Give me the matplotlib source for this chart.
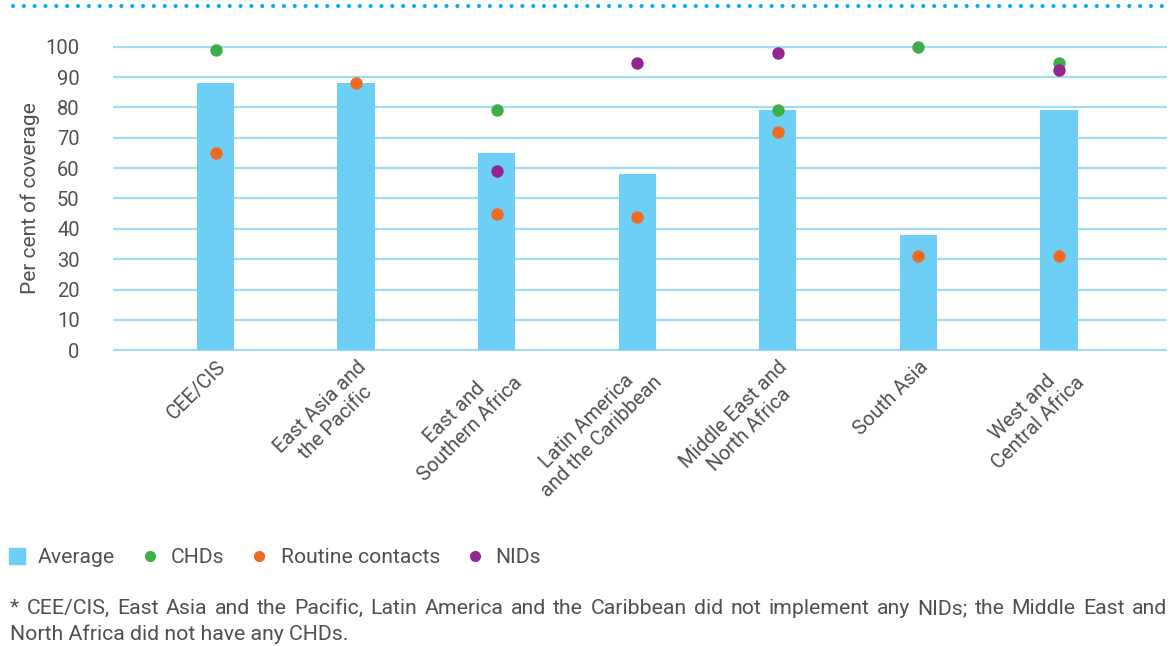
import matplotlib.pyplot as plt
from matplotlib.lines import Line2D
import matplotlib.transforms as mtransforms
import numpy as np

regions = ['CEE/CIS', 'East Asia and\nthe Pacific', 'East and\nSouthern Africa',
           'Latin America\nand the Caribbean', 'Middle East and\nNorth Africa',
           'South Asia', 'West and\nCentral Africa']
average = [88, 88, 65, 58, 79, 38, 79]
chds = [99, None, 79, None, 79, 100, 94.5]
routine = [65, 88, 45, 44, 72, 31, 31]
nids = [None, None, 59, 94.5, 98, None, 92.5]
yticks = list(range(0, 101, 10))
note_1 = ('* CEE/CIS, East Asia and the Pacific, Latin America and the Caribbean '
          'did not implement any NIDs; the Middle East and')
note_2 = 'North Africa did not have any CHDs.'

BAR = '#6dcff6'
GRID = '#a3dbf4'
GREEN = '#3fae49'
ORANGE = '#f26a22'
PURPLE = '#93278f'
TEXT = '#505050'

plt.rcParams['font.family'] = ['Roboto', 'DejaVu Sans']

fig = plt.figure(figsize=(11.73, 6.46), dpi=100)
ax = fig.add_axes([0.0963, 0.456, 0.8987, 0.4735])

x = np.arange(len(regions))
ax.bar(x, average, width=0.265, color=BAR, zorder=2)


def dots(vals, color):
    xs = [i for i, v in enumerate(vals) if v is not None]
    ys = [v for v in vals if v is not None]
    ax.scatter(xs, ys, s=80, color=color, zorder=3, clip_on=False, linewidths=0)


dots(chds, GREEN)
dots(routine, ORANGE)
dots(nids, PURPLE)

ax.set_ylim(-0.4, 100.4)
ax.set_xlim(-0.73, 6.77)
ax.set_yticks(yticks)
ax.yaxis.grid(True, color=GRID, linewidth=1.6, zorder=0)
ax.set_axisbelow(True)
for s in ax.spines.values():
    s.set_visible(False)
ax.tick_params(axis='both', length=0, colors=TEXT, labelsize=14.5)
ax.tick_params(axis='y', pad=24)
ax.set_xticks(x)
ax.set_xticklabels(regions, rotation=45, ha='right', va='top',
                   rotation_mode='anchor', multialignment='center')
shift = mtransforms.ScaledTranslation(0, -1 / 100, fig.dpi_scale_trans)
for lbl in ax.get_xticklabels():
    lbl.set_transform(lbl.get_transform() + shift)
ax.set_ylabel('Per cent of coverage', color=TEXT, fontsize=15, labelpad=4)

# dotted rule along the top edge
fig.add_artist(Line2D([0.011, 0.995], [0.9907, 0.9907], color='#00aeef',
                      linewidth=3, linestyle=(0, (0.001, 2.6)),
                      dash_capstyle='round'))

handles = [
    Line2D([], [], marker='s', linestyle='none', color=BAR, markersize=11),
    Line2D([], [], marker='o', linestyle='none', color=GREEN, markersize=7),
    Line2D([], [], marker='o', linestyle='none', color=ORANGE, markersize=7),
    Line2D([], [], marker='o', linestyle='none', color=PURPLE, markersize=7),
]
leg = fig.legend(handles, ['Average', 'CHDs', 'Routine contacts', 'NIDs'],
                 loc='center left', bbox_to_anchor=(-0.009, 0.137), ncol=4,
                 frameon=False, fontsize=15.2, handlelength=0.8,
                 handletextpad=0.6, columnspacing=1.25)
for t in leg.get_texts():
    t.set_color(TEXT)

# footnote, first line justified to the plot width
renderer = fig.canvas.get_renderer()
left, right = 10, 1167
words = [fig.text(0, 0.058, w, fontsize=15.3, color=TEXT, va='center', ha='left')
         for w in note_1.split()]
widths = [w.get_window_extent(renderer).width for w in words]
gap = (right - left - sum(widths)) / (len(words) - 1)
pos = left
for w, wd in zip(words, widths):
    w.set_x(pos / fig.bbox.width)
    pos += wd + gap
fig.text(left / fig.bbox.width, 0.018, note_2, fontsize=15.3, color=TEXT,
         va='center', ha='left')

fig.savefig('out.png', dpi=100)
